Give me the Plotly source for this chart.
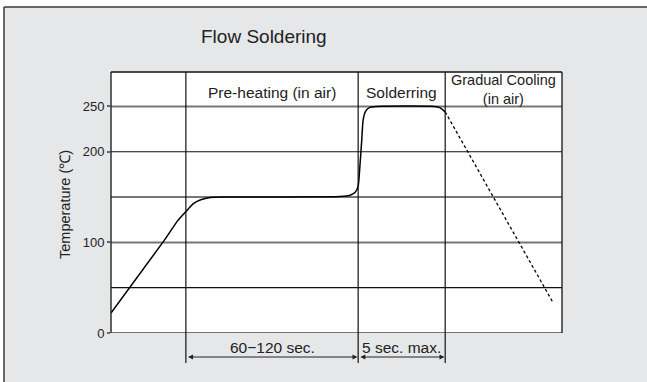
import plotly.graph_objects as go

# ---- data -------------------------------------------------------------
# Relative time axis (0..100) and temperature in degC
profile_time = [0, 11.6, 14.8, 16.6, 18.2, 19.9, 22.0, 25.0, 50.8, 53.0,
                54.1, 54.8, 55.2, 55.6, 55.9, 56.5, 57.4, 58.8, 71.8, 73.0, 74.1]
profile_temp = [22, 100.8, 124, 134, 142.5, 147, 149.5, 150, 150.5, 152,
                155, 162, 185, 213, 235, 245, 249, 250, 250, 248.5, 244]
cooling_time = [74.1, 97.9]
cooling_temp = [244, 34.5]

zone_edges = [16.6, 54.8, 74.1]
zone_labels = ["Pre-heating (in air)", "Solderring", "Gradual Cooling<br>(in air)"]
duration_labels = ["60\u2212120 sec.", "5 sec. max."]

grid_levels = [0, 50, 100, 150, 200, 250]
grid_dark = [False, True, False, False, True, False]
tick_values = [0, 100, 200, 250]
tick_text = ["0", "100", "200", "250"]

# ---- layout geometry (pixels) ------------------------------------------
W, H = 647, 382
L, R, T, B = 111, 562, 72, 333
PW, PH = R - L, B - T


def px_x(p):
    return (p - L) / PW


def px_y(p):
    return (B - p) / PH


FONT = "Liberation Sans, Arial, Helvetica, sans-serif"
TXT = "#222222"
GRAY_BG = "#e6e7e9"

fig = go.Figure()
fig.add_trace(go.Scatter(x=profile_time, y=profile_temp, mode="lines",
                         line=dict(color="black", width=1.5, shape="spline", smoothing=0.5),
                         hoverinfo="skip", showlegend=False))
fig.add_trace(go.Scatter(x=cooling_time, y=cooling_temp, mode="lines",
                         line=dict(color="black", width=1.3, dash="3px,2.5px"),
                         hoverinfo="skip", showlegend=False))

shapes = []
# white strips outside the outer frame
shapes.append(dict(type="rect", xref="paper", yref="paper", x0=px_x(-5), x1=px_x(W + 5),
                   y0=px_y(7), y1=px_y(-5), fillcolor="white", line_width=0, layer="below"))
shapes.append(dict(type="rect", xref="paper", yref="paper", x0=px_x(-5), x1=px_x(4),
                   y0=px_y(H + 5), y1=px_y(-5), fillcolor="white", line_width=0, layer="below"))
# outer frame edges
shapes.append(dict(type="line", xref="paper", yref="paper", x0=px_x(4), x1=px_x(W + 5),
                   y0=px_y(7), y1=px_y(7), line=dict(color="#3a3a3a", width=1.5)))
shapes.append(dict(type="line", xref="paper", yref="paper", x0=px_x(4), x1=px_x(4),
                   y0=px_y(7), y1=px_y(H + 5), line=dict(color="#3a3a3a", width=1.5)))

# horizontal gridlines
for lvl, dark in zip(grid_levels, grid_dark):
    shapes.append(dict(type="line", xref="paper", yref="y", x0=0, x1=1, y0=lvl, y1=lvl,
                       line=dict(color="#111111" if dark else "#767676",
                                 width=1.2 if dark else 2), layer="below"))

# plot-area frame (left, top, right)
for x0, y0, x1, y1 in [(0, 0, 0, 1), (0, 1, 1, 1), (1, 0, 1, 1)]:
    shapes.append(dict(type="line", xref="paper", yref="paper", x0=x0, y0=y0, x1=x1, y1=y1,
                       line=dict(color="#111111", width=1.3)))

# zone boundaries, extending below the chart for the duration arrows
for xe in zone_edges:
    shapes.append(dict(type="line", xref="x", yref="paper", x0=xe, x1=xe,
                       y0=px_y(363), y1=1, line=dict(color="#111111", width=1.2)))


def label(text, xref, x, y, size, **kw):
    return dict(text=text, xref=xref, yref="paper", x=x, y=y, showarrow=False,
                xanchor="center", yanchor="middle",
                font=dict(family=FONT, size=size, color=TXT), **kw)


annotations = []
annotations.append(label("Flow Soldering", "paper", px_x(264), px_y(37), 19))
annotations.append(label("Temperature (\u2103)", "paper", px_x(65), px_y(205), 14.5,
                         textangle=-90))

header_y = px_y(92)
annotations.append(label(zone_labels[0], "x", (zone_edges[0] + zone_edges[1]) / 2,
                         header_y, 15.5))
annotations.append(label(zone_labels[1], "x", (zone_edges[1] + zone_edges[2]) / 2,
                         header_y, 15.5))
annotations.append(label(zone_labels[2], "x", (zone_edges[2] + 100) / 2, px_y(89), 14.5))

# duration arrows and labels
arrow_y = px_y(357)
spans = [(zone_edges[0], zone_edges[1]), (zone_edges[1], zone_edges[2])]
for (a, b), lab in zip(spans, duration_labels):
    annotations.append(dict(text="", xref="x", yref="paper", x=b - 0.15, y=arrow_y,
                            axref="x", ayref="pixel", ax=a + 0.15, ay=0,
                            showarrow=True, arrowhead=2, arrowside="end+start",
                            arrowsize=1, arrowwidth=1, arrowcolor="#222222",
                            standoff=0, startstandoff=0))
    annotations.append(label(lab, "x", (a + b) / 2, px_y(347), 15.5))

fig.update_layout(
    width=W, height=H, autosize=False,
    margin=dict(l=L, r=W - R, t=T, b=H - B, pad=0),
    paper_bgcolor=GRAY_BG, plot_bgcolor="white",
    xaxis=dict(range=[0, 100], showgrid=False, zeroline=False, showline=False,
               showticklabels=False, ticks="", fixedrange=True),
    yaxis=dict(range=[0, 288], tickvals=tick_values, ticktext=tick_text,
               ticks="outside", ticklen=3, tickcolor="#666666", tickwidth=1.5,
               showgrid=False, zeroline=False, showline=False,
               tickfont=dict(family=FONT, size=13, color=TXT), fixedrange=True),
    shapes=shapes, annotations=annotations, showlegend=False,
)

fig.write_html("out.html")
